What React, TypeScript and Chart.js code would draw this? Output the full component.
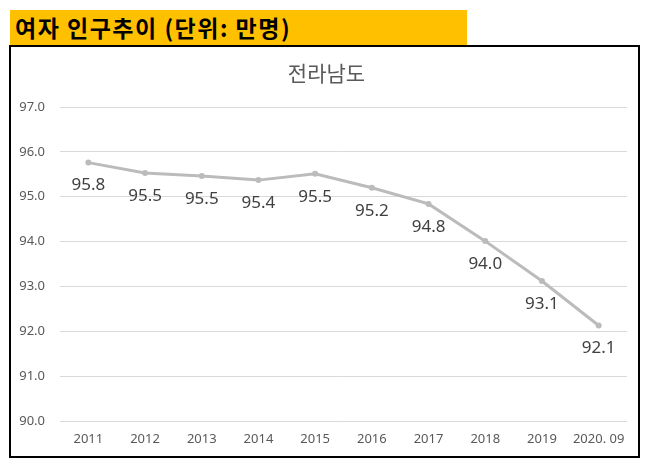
import React, { useEffect, useRef } from "react";
import { Chart, registerables } from "chart.js";

Chart.register(...registerables);

const categories = ["2011", "2012", "2013", "2014", "2015", "2016", "2017", "2018", "2019", "2020. 09"];
const population = [95.76, 95.53, 95.46, 95.37, 95.51, 95.2, 94.84, 94.01, 93.12, 92.13];
const yTicks = [90, 91, 92, 93, 94, 95, 96, 97];
const bannerText = "여자 인구추이 (단위: 만명)";
const chartTitle = "전라남도";

const dataLabelPlugin = {
  id: "dataLabelsBelow",
  afterDatasetsDraw(chart: any) {
    const ctx = chart.ctx;
    const meta = chart.getDatasetMeta(0);
    const ds = chart.data.datasets[0];
    ctx.save();
    ctx.font = "17px 'Noto Sans'";
    ctx.fillStyle = "#404040";
    ctx.textAlign = "center";
    ctx.textBaseline = "middle";
    meta.data.forEach((pt: any, i: number) => {
      const v = ds.data[i] as number;
      ctx.fillText(v.toFixed(1), pt.x, pt.y + 23);
    });
    ctx.restore();
  },
};

export default function App() {
  const ref = useRef<HTMLCanvasElement | null>(null);
  useEffect(() => {
    if (!ref.current) return;
    const chart = new Chart(ref.current, {
      type: "line",
      data: {
        labels: categories,
        datasets: [
          {
            data: population,
            borderColor: "#BBBBBB",
            backgroundColor: "#BBBBBB",
            borderWidth: 3,
            pointRadius: 3,
            pointHoverRadius: 3,
            pointBorderWidth: 0,
            tension: 0,
          },
        ],
      },
      options: {
        animation: false,
        responsive: false,
        maintainAspectRatio: false,
        layout: { padding: { left: 0, right: 11, top: 60, bottom: 0 } },
        plugins: { legend: { display: false }, title: { display: false }, tooltip: { enabled: false } },
        scales: {
          x: {
            offset: true,
            grid: { display: false, drawTicks: false },
            border: { display: false },
            ticks: { padding: 10, color: "#595959", font: { family: "'Noto Sans'", size: 13 }, maxRotation: 0, autoSkip: false },
            afterFit: (s: any) => { s.height = 35; },
          },
          y: {
            min: yTicks[0],
            max: yTicks[yTicks.length - 1],
            grid: { color: "#D9D9D9", lineWidth: 1, drawTicks: false },
            border: { display: false },
            afterBuildTicks: (s: any) => { s.ticks = yTicks.map((v) => ({ value: v })); },
            ticks: {
              padding: 15,
              color: "#595959",
              font: { family: "'Noto Sans'", size: 13 },
              callback: (v: any) => Number(v).toFixed(1),
            },
            afterFit: (s: any) => { s.width = 49; },
          },
        },
      },
      plugins: [dataLabelPlugin],
    });
    return () => chart.destroy();
  }, []);

  return (
    <div style={{ position: "relative", width: 633, height: 451 }}>
      <div
        style={{
          position: "absolute",
          left: 2,
          top: 2,
          width: 457,
          height: 35,
          background: "#FFC000",
          fontFamily: "'Noto Sans CJK KR'",
          fontWeight: 700,
          fontSize: 23,
          letterSpacing: 1.5,
          lineHeight: "35px",
          color: "#000",
          paddingLeft: 5,
          boxSizing: "border-box",
          whiteSpace: "nowrap",
        }}
      >
        {bannerText}
      </div>
      <div
        style={{
          position: "absolute",
          left: 1,
          top: 37,
          width: 631,
          height: 413,
          border: "2px solid #000",
          boxSizing: "border-box",
          background: "#fff",
        }}
      >
        <div
          style={{
            position: "absolute",
            left: 0,
            width: 627,
            top: 11,
            textAlign: "center",
            fontFamily: "'Noto Sans CJK KR'",
            fontSize: 21,
            color: "#595959",
            lineHeight: "28px",
            paddingLeft: 4,
            boxSizing: "border-box",
          }}
        >
          {chartTitle}
        </div>
        <canvas ref={ref} width={627} height={409} style={{ display: "block", width: 627, height: 409 }} />
      </div>
    </div>
  );
}
